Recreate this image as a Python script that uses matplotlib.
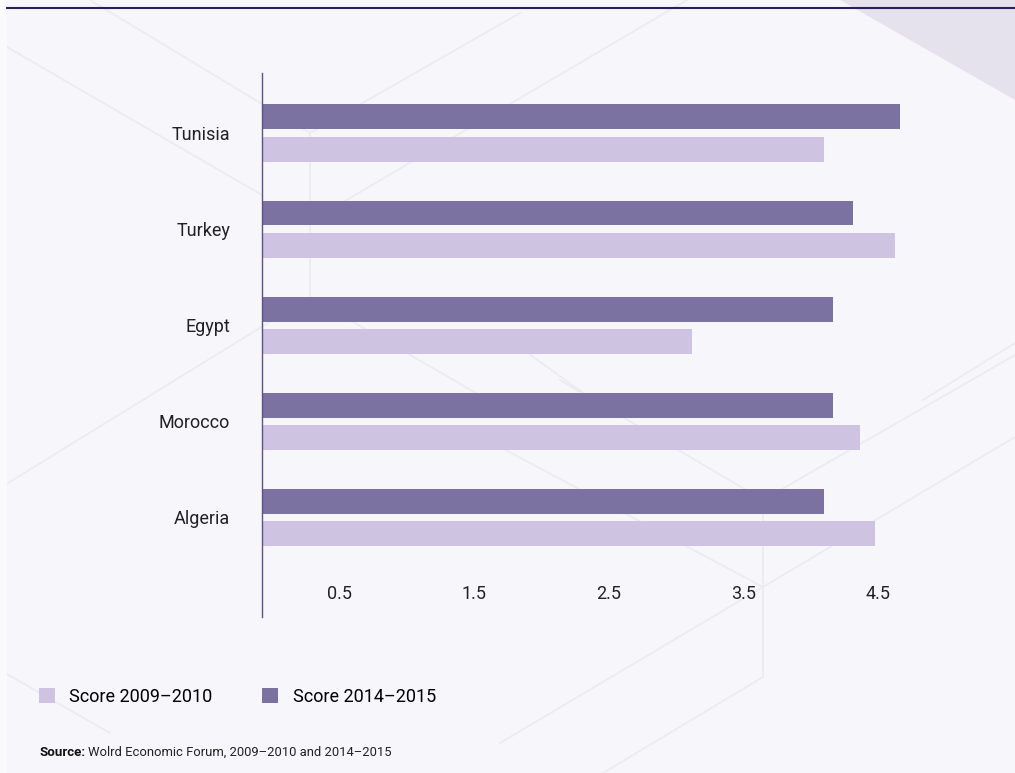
import matplotlib.pyplot as plt
import numpy as np
from matplotlib.patches import Polygon, Rectangle
from matplotlib.lines import Line2D

plt.rcParams['font.family'] = ['Roboto', 'DejaVu Sans']

countries = ["Tunisia", "Turkey", "Egypt", "Morocco", "Algeria"]
score_2009 = [4.10, 4.63, 3.12, 4.37, 4.48]
score_2014 = [4.67, 4.32, 4.17, 4.17, 4.10]
ticks = [0.5, 1.5, 2.5, 3.5, 4.5]
labels = ["Score 2009\u20132010", "Score 2014\u20132015"]

bg = "#f7f6fb"
light = "#cfc3e2"
dark = "#7b72a2"
x0 = -0.08  # where the axis line sits

W, H = 1015, 773
fig = plt.figure(figsize=(W / 100, H / 100), dpi=100, facecolor=bg)


def px(x, y):
    return x / W, 1 - y / H


# faint isometric background pattern (pixel segments)
segs = [
    (0, 43, 262, 195), (90, 0, 310, 133), (310, 133, 310, 297),
    (310, 133, 520, 13), (333, 208, 687, 0), (310, 297, 0, 488),
    (310, 297, 500, 407), (560, 380, 763, 500), (500, 447, 763, 587),
    (763, 500, 763, 677), (763, 500, 1015, 355), (763, 587, 1015, 437),
    (763, 587, 500, 743), (763, 677, 603, 773), (0, 670, 110, 733),
    (500, 333, 593, 400), (923, 400, 1015, 343),
]
for x1, y1, x2, y2 in segs:
    (a, b), (c, d) = px(x1, y1), px(x2, y2)
    fig.add_artist(Line2D([a, c], [b, d], transform=fig.transFigure,
                          color="#ecebf1", lw=1.3, zorder=0))
fig.add_artist(Rectangle((0, 0), 7 / W, 1, transform=fig.transFigure,
                         facecolor="#fafafc", edgecolor="none", zorder=0))
fig.add_artist(Polygon([px(840, 0), px(1015, 0), px(1015, 100)], closed=True,
                       transform=fig.transFigure, facecolor="#e5e2ee",
                       edgecolor="none", zorder=0))
fig.add_artist(Line2D([7 / W, 1], [1 - 8 / H] * 2, transform=fig.transFigure,
                      color="#2a1f5e", lw=1.5))

ax = fig.add_axes([262 / W, 1 - 617 / H, (930 - 262) / W, (617 - 73) / H])
ax.set_facecolor("none")

y = np.arange(len(countries))
h = 0.26
off = 0.167
w09 = np.array(score_2009) - x0
w14 = np.array(score_2014) - x0
b09 = ax.barh(y + off, w09, left=x0, height=h, color=light, label=labels[0])
b14 = ax.barh(y - off, w14, left=x0, height=h, color=dark, label=labels[1])

ax.set_xlim(x0, 4.89)
ax.set_ylim(len(countries) - 1 + 1.04, -0.625)
ax.set_yticks(y)
ax.set_yticklabels(countries, fontsize=13, color="#222222")
ax.set_xticks(ticks)
ax.set_xticklabels([str(t) for t in ticks], fontsize=13, color="#222222")
ax.tick_params(axis="both", length=0)
ax.tick_params(axis="y", pad=23)
ax.tick_params(axis="x", pad=-23)
for s in ["top", "right", "bottom"]:
    ax.spines[s].set_visible(False)
ax.spines["left"].set_color("#5a5288")
ax.spines["left"].set_linewidth(1.0)

fig.legend(handles=[b09, b14], labels=labels, loc="center left",
           bbox_to_anchor=(0.022, 1 - 697 / H), ncol=2, frameon=False,
           fontsize=13, handlelength=0.9, handleheight=0.9,
           handletextpad=0.8, columnspacing=2.75)

t1 = fig.text(39 / W, 1 - 752 / H, "Source:", fontsize=9.6, fontweight="bold",
              color="#111111", va="center")
fig.canvas.draw()
bb = t1.get_window_extent()
fig.text(bb.x1 / W + 3 / W, 1 - 752 / H,
         "Wolrd Economic Forum, 2009\u20132010 and 2014\u20132015",
         fontsize=9.4, color="#222222", va="center")

fig.savefig("out.png", dpi=100, facecolor=bg)
